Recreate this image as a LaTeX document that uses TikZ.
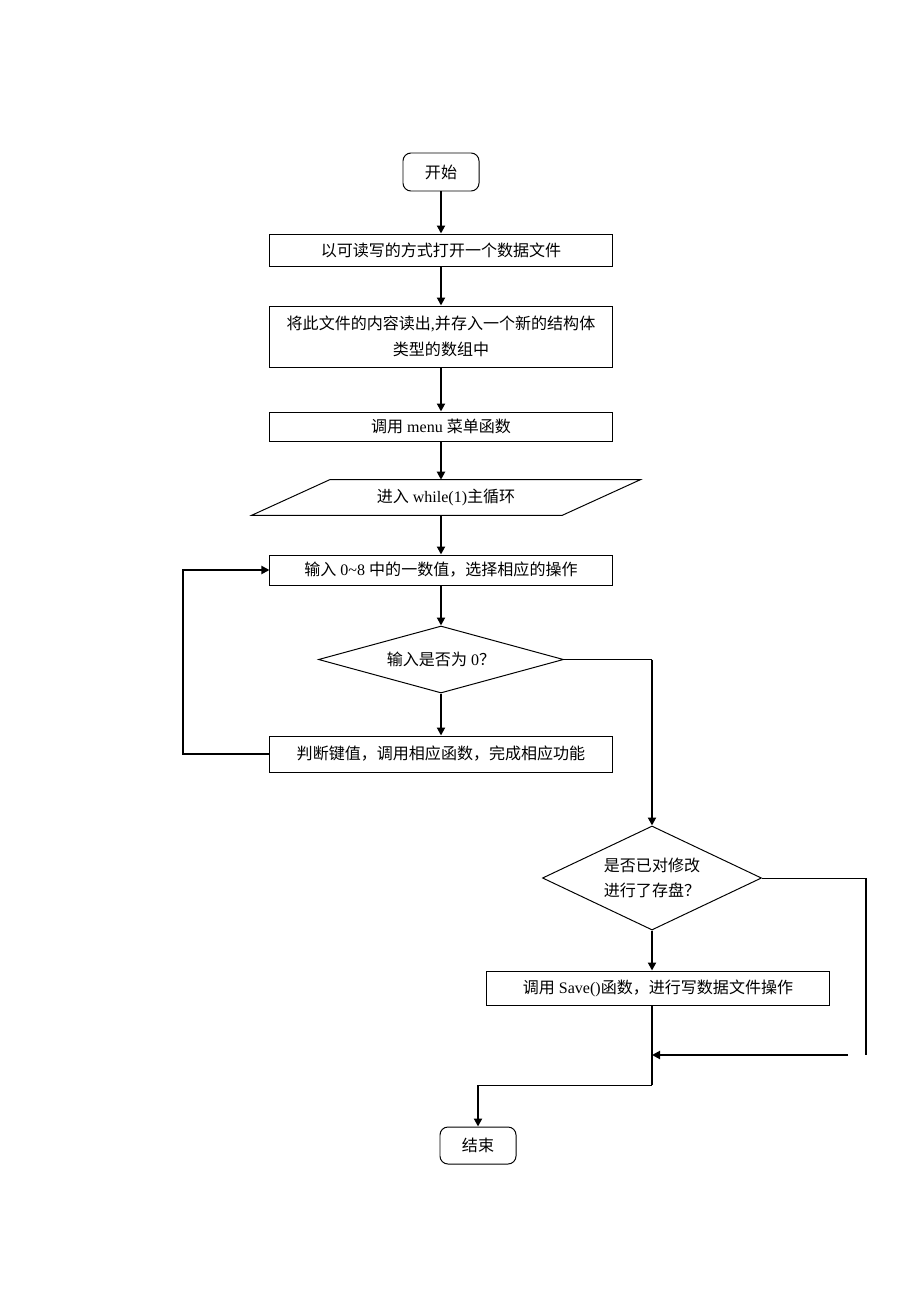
\documentclass[tikz,border=0pt]{standalone}
\usepackage{fontspec}
\setmainfont{Liberation Serif}
\newfontfamily\cjk{Noto Sans CJK SC}
\newcommand{\zh}[1]{{\cjk #1}}
\usetikzlibrary{shapes.geometric,arrows.meta,calc}
\begin{document}
\begin{tikzpicture}[x=0.025cm,y=-0.025cm,
		txt/.style={font=\fontsize{11.4}{18}\selectfont},
		box/.style={txt,draw,line width=0.7pt,inner sep=0pt,minimum width=8.55cm},
		term/.style={box,rounded corners=0.2cm,minimum width=1.9cm},
		dec/.style={txt,draw,diamond,line width=0.7pt,inner sep=0pt},
		line/.style={line width=1.4pt},
		thinline/.style={line width=0.7pt},
		arr/.style={line,-{Triangle[length=2mm,width=2mm]}}]
		\useasboundingbox (0,0) rectangle (920,1302);
		% main column
		\node at (441,172) [term,minimum height=0.95cm] (st) {\zh{开始}};
		\node at (441,250) [box,minimum height=0.8cm] (b1) {\zh{以可读写的方式打开一个数据文件}};
		\node at (441,336.5) [box,minimum height=1.525cm,text width=8.1cm,align=center] (b2) {\zh{将此文件的内容读出},\zh{并存入一个新的结构体}\\\zh{类型的数组中}};
		\node at (441,426.5) [box,minimum height=0.725cm] (b3) {\zh{调用} menu \zh{菜单函数}};
		\node at (446,497.5) [txt,inner sep=0pt,minimum width=7.75cm,minimum height=0.875cm] (par) {\zh{进入} while(1)\zh{主循环}};
		\draw[line width=0.7pt] ($(par.south west)+(-39,0)$) -- ($(par.north west)+(39,0)$) -- ($(par.north east)+(39,0)$) -- ($(par.south east)+(-39,0)$) -- cycle;
		\node at (441,570) [box,minimum height=0.75cm] (b4) {\zh{输入} 0\textasciitilde 8 \zh{中的一数值，选择相应的操作}};
		\node at (441,659.5) [dec,aspect=3.66,minimum width=6.125cm,minimum height=1.675cm] (d1) {\zh{输入是否为} 0\zh{？}};
		\node at (441,754) [box,minimum height=0.9cm] (b5) {\zh{判断键值，调用相应函数，完成相应功能}};
		% right column
		\node at (652,878) [dec,aspect=2.1,minimum width=5.475cm,minimum height=2.6cm,align=left] (d2) {\zh{是否已对修改}\\\zh{进行了存盘？}};
		\node at (658,988) [box,minimum height=0.85cm] (b6) {\zh{调用} Save()\zh{函数，进行写数据文件操作}};
		\node at (478,1145.5) [term,minimum height=0.925cm] (en) {\zh{结束}};
		\coordinate (r1) at (866,1055);
		\coordinate (r2) at (848,1055);
		\coordinate (j) at (652,1085);
		% connectors
		\draw[arr] (st) -- (b1);
		\draw[arr] (b1) -- (b2);
		\draw[arr] (b2) -- (b3);
		\draw[arr] (b3.south) -- (b3.south |- par.north);
		\draw[arr] (par.south -| b4.north) -- (b4.north);
		\draw[arr] (b4) -- (d1);
		\draw[arr] (d1) -- (b5);
		\draw[arr] (b5.west) -- ++(-86,0) |- (b4.west);
		\draw[thinline] (d1.east) -- (d1.east -| d2.north);
		\draw[arr] (d1.east -| d2.north) -- (d2.north);
		\draw[arr] (d2.south) -- (d2.south |- b6.north);
		\draw[thinline] (d2.east) -- (d2.east -| r1);
		\draw[line] (d2.east -| r1) -- (r1);
		\draw[arr] (r2) -- (r2 -| d2.south);
		\draw[line] (b6.south -| d2.south) -- (j);
		\draw[thinline] (j) -- (j -| en.north);
		\draw[arr] (j -| en.north) -- (en.north);
	\end{tikzpicture}
\end{document}
